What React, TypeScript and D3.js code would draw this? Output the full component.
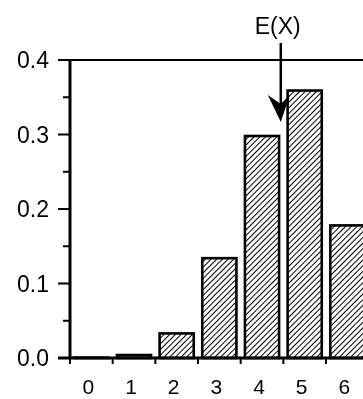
import { useRef, useEffect } from 'react';
import * as d3 from 'd3';

const CATEGORIES = [0, 1, 2, 3, 4, 5, 6];
const PROBS = [0.0005, 0.004, 0.033, 0.134, 0.298, 0.359, 0.178];
const Y_TICKS = [0, 0.1, 0.2, 0.3, 0.4];
const Y_MINOR = [0.05, 0.15, 0.25, 0.35];
const EXPECTED = 4.44;
const EXPECTED_LABEL = 'E(X)';

export default function App() {
  const ref = useRef<SVGSVGElement>(null);

  useEffect(() => {
    if (!ref.current) return;
    const width = 363;
    const height = 399;
    const svg = d3.select(ref.current);
    svg.selectAll('*').remove();
    svg.attr('width', width).attr('height', height);

    const font = '"Liberation Sans", Arial, Helvetica, sans-serif';
    const left = 70;
    const step = 42.67;

    const x = d3.scaleLinear().domain([-0.5, 6.5]).range([left, left + 7 * step]);
    const y = d3.scaleLinear().domain([0, 0.4]).range([358, 60]);

    // hatch pattern
    const defs = svg.append('defs');
    const pat = defs.append('pattern')
      .attr('id', 'hatch')
      .attr('patternUnits', 'userSpaceOnUse')
      .attr('width', 4).attr('height', 4)
      .attr('patternTransform', 'rotate(45)');
    pat.append('rect').attr('width', 4).attr('height', 4).attr('fill', '#fff');
    pat.append('line')
      .attr('x1', 0).attr('y1', 0).attr('x2', 0).attr('y2', 4)
      .attr('stroke', '#000').attr('stroke-width', 2);

    const g = svg.append('g');

    // bars
    g.selectAll('rect.bar')
      .data(CATEGORIES)
      .join('rect')
      .attr('class', 'bar')
      .attr('x', d => x(d - 0.4))
      .attr('width', d => x(d + 0.4) - x(d - 0.4))
      .attr('y', (d, i) => y(PROBS[i]))
      .attr('height', (d, i) => y(0) - y(PROBS[i]))
      .attr('fill', 'url(#hatch)')
      .attr('stroke', '#000')
      .attr('stroke-width', 2.6);

    // top frame line
    g.append('line')
      .attr('x1', 58).attr('x2', width)
      .attr('y1', y(0.4)).attr('y2', y(0.4))
      .attr('stroke', '#000').attr('stroke-width', 2);

    // y axis
    g.append('line')
      .attr('x1', left).attr('x2', left)
      .attr('y1', y(0.4)).attr('y2', y(0))
      .attr('stroke', '#000').attr('stroke-width', 3);
    g.selectAll('line.ymaj')
      .data(Y_TICKS)
      .join('line')
      .attr('class', 'ymaj')
      .attr('x1', 58).attr('x2', left)
      .attr('y1', d => y(d)).attr('y2', d => y(d))
      .attr('stroke', '#000').attr('stroke-width', 2);
    g.selectAll('line.ymin')
      .data(Y_MINOR)
      .join('line')
      .attr('class', 'ymin')
      .attr('x1', 63).attr('x2', left)
      .attr('y1', d => y(d)).attr('y2', d => y(d))
      .attr('stroke', '#000').attr('stroke-width', 2);
    g.selectAll('text.ylab')
      .data(Y_TICKS)
      .join('text')
      .attr('class', 'ylab')
      .attr('x', 49)
      .attr('y', d => y(d) + 8)
      .attr('text-anchor', 'end')
      .attr('font-family', font)
      .attr('font-size', 23)
      .text(d => d3.format('.1f')(d));

    // x axis
    g.append('line')
      .attr('x1', 58).attr('x2', width)
      .attr('y1', y(0)).attr('y2', y(0))
      .attr('stroke', '#000').attr('stroke-width', 3);
    g.selectAll('line.xt')
      .data(CATEGORIES)
      .join('line')
      .attr('class', 'xt')
      .attr('x1', d => x(d - 0.5)).attr('x2', d => x(d - 0.5))
      .attr('y1', y(0)).attr('y2', y(0) + 6)
      .attr('stroke', '#000').attr('stroke-width', 2);
    g.selectAll('text.xlab')
      .data(CATEGORIES)
      .join('text')
      .attr('class', 'xlab')
      .attr('x', d => x(d) - 3)
      .attr('y', 394)
      .attr('text-anchor', 'middle')
      .attr('font-family', font)
      .attr('font-size', 21)
      .text(d => String(d));

    // expected value arrow
    const ex = x(EXPECTED);
    g.append('line')
      .attr('x1', ex).attr('x2', ex)
      .attr('y1', 43).attr('y2', 110)
      .attr('stroke', '#000').attr('stroke-width', 2.5);
    g.append('path')
      .attr('d', `M${ex},122 L${ex - 13},95 L${ex},104 L${ex + 9},95 Z`)
      .attr('fill', '#000');
    g.append('text')
      .attr('x', ex - 3)
      .attr('y', 34)
      .attr('text-anchor', 'middle')
      .attr('font-family', font)
      .attr('font-size', 23)
      .text(EXPECTED_LABEL);
  }, []);

  return (
    <svg ref={ref} style={{ position: 'fixed', left: 0, top: 0, display: 'block' }} />
  );
}
